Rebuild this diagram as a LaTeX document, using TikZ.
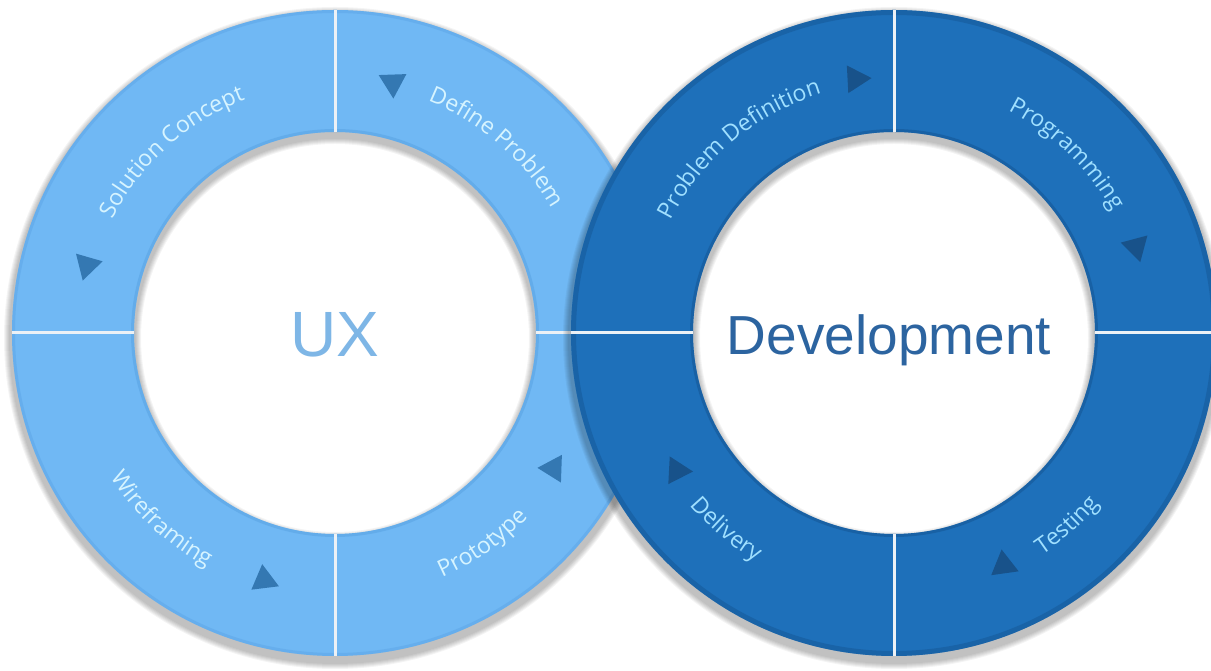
\documentclass[tikz,border=0pt]{standalone}
\usepackage{fontspec}
\usepackage{xcolor}
\usepackage{tikz}
\usetikzlibrary{decorations.text,shapes.geometric}

\newfontfamily\ringfont{Open Sans}
\newfontfamily\titlefont{Liberation Sans}
\newcommand{\lblsize}{\ringfont\fontsize{23}{27}\selectfont}

\definecolor{uxblue}{RGB}{112,184,244}
\definecolor{uxrim}{RGB}{84,158,224}
\definecolor{uxdark}{RGB}{52,120,178}
\definecolor{uxtext}{RGB}{214,244,255}
\definecolor{uxtitle}{RGB}{126,182,230}
\definecolor{devblue}{RGB}{30,112,186}
\definecolor{devrim}{RGB}{20,84,146}
\definecolor{devdark}{RGB}{24,82,138}
\definecolor{devtext}{RGB}{160,224,255}
\definecolor{devtitle}{RGB}{44,100,160}
\definecolor{divider}{RGB}{236,241,246}

\tikzstyle{divline} = [line width=3pt, draw=divider]
\tikzstyle{arrowtri} = [regular polygon, regular polygon sides=3, inner sep=0pt, minimum size=32pt]
\tikzstyle{uxtri} = [arrowtri, fill=uxdark]
\tikzstyle{devtri} = [arrowtri, fill=devdark]

\begin{document}
\begin{tikzpicture}[x=1pt,y=1pt]

	\useasboundingbox (0,0) rectangle (1211,671);
	\fill[white] (0,0) rectangle (1211,671);

	\coordinate (ux) at (335,338);
	\coordinate (dev) at (894,338);

	% UX ring
	\foreach \k in {0,...,5}
		\fill[black, opacity=0.045, even odd rule] ([yshift=-5pt]ux) circle[radius={(326+\k)*1pt}] ([yshift=-5pt]ux) circle[radius={(199-\k)*1pt}];
	\fill[uxblue, even odd rule] (ux) circle[radius=323pt] (ux) circle[radius=201pt];
	\draw[uxrim, line width=3pt, opacity=.35] (ux) circle[radius=321.5pt];
	\draw[uxrim, line width=3pt, opacity=.45] (ux) circle[radius=202.5pt];
	\draw[divline] ([yshift=201pt]ux) -- ([yshift=323pt]ux);
	\draw[divline] ([yshift=-201pt]ux) -- ([yshift=-323pt]ux);
	\draw[divline] ([xshift=-201pt]ux) -- ([xshift=-323pt]ux);
	\draw[divline] ([xshift=201pt]ux) -- ([xshift=323pt]ux);

	% Development ring
	\foreach \k in {0,...,5}
		\fill[black, opacity=0.045, even odd rule] ([yshift=-5pt]dev) circle[radius={(326+\k)*1pt}] ([yshift=-5pt]dev) circle[radius={(199-\k)*1pt}];
	\fill[devblue, even odd rule] (dev) circle[radius=323pt] (dev) circle[radius=201pt];
	\draw[devrim, line width=5pt, opacity=.45] (dev) circle[radius=320.5pt];
	\draw[devrim, line width=3pt, opacity=.5] (dev) circle[radius=202.5pt];
	\draw[divline] ([yshift=201pt]dev) -- ([yshift=323pt]dev);
	\draw[divline] ([yshift=-201pt]dev) -- ([yshift=-323pt]dev);
	\draw[divline] ([xshift=-201pt]dev) -- ([xshift=-323pt]dev);
	\draw[divline] ([xshift=201pt]dev) -- ([xshift=323pt]dev);

	% arrow heads
	\node[uxtri, rotate=164] (trisolution) at ([shift={(164.7:257pt)}]ux) {};
	\node[uxtri, rotate=182] (tridefine) at ([shift={(77:257pt)}]ux) {};
	\node[uxtri, rotate=7] (triwire) at ([shift={(254:257pt)}]ux) {};
	\node[uxtri, rotate=88] (triproto) at ([shift={(328.2:257pt)}]ux) {};
	\node[devtri, rotate=-87] (triproblem) at ([shift={(98.6:257pt)}]dev) {};
	\node[devtri, rotate=195] (triprog) at ([shift={(19.6:257pt)}]dev) {};
	\node[devtri, rotate=-93] (trideliv) at ([shift={(212.4:257pt)}]dev) {};
	\node[devtri, rotate=8] (tritest) at ([shift={(295.3:257pt)}]dev) {};

	% labels along the rings
	\path[decorate, decoration={text along path, text align=center, text color=uxtext, text={|\lblsize|Solution Concept}}]
		([shift={(167:250pt)}]ux) arc[start angle=167, end angle=97, radius=250pt];
	\path[decorate, decoration={text along path, text align=center, text color=uxtext, text={|\lblsize|Define Problem}}]
		([shift={(84:250pt)}]ux) arc[start angle=84, end angle=14, radius=250pt];
	\path[decorate, decoration={text along path, text align=center, text color=uxtext, text={|\lblsize|Wireframing}}]
		([shift={(192:267pt)}]ux) arc[start angle=192, end angle=262, radius=267pt];
	\path[decorate, decoration={text along path, text align=center, text color=uxtext, text={|\lblsize|Prototype}}]
		([shift={(270:267pt)}]ux) arc[start angle=270, end angle=340, radius=267pt];

	\path[decorate, decoration={text along path, text align=center, text color=devtext, text={|\lblsize|Problem Definition}}]
		([shift={(165:250pt)}]dev) arc[start angle=165, end angle=95, radius=250pt];
	\path[decorate, decoration={text along path, text align=center, text color=devtext, text={|\lblsize|Programming}}]
		([shift={(81:250pt)}]dev) arc[start angle=81, end angle=11, radius=250pt];
	\path[decorate, decoration={text along path, text align=center, text color=devtext, text={|\lblsize|Delivery}}]
		([shift={(195:267pt)}]dev) arc[start angle=195, end angle=264, radius=267pt];
	\path[decorate, decoration={text along path, text align=center, text color=devtext, text={|\lblsize|Testing}}]
		([shift={(277:267pt)}]dev) arc[start angle=277, end angle=347, radius=267pt];

	% titles
	\node[anchor=base, text=uxtitle, font=\titlefont\fontsize{64}{64}\selectfont] (uxname) at ([yshift=-24pt]ux) {UX};
	\node[anchor=base, text=devtitle, font=\titlefont\fontsize{55}{55}\selectfont] (devname) at ([xshift=-5pt, yshift=-22pt]dev) {Development};

\end{tikzpicture}
\end{document}
